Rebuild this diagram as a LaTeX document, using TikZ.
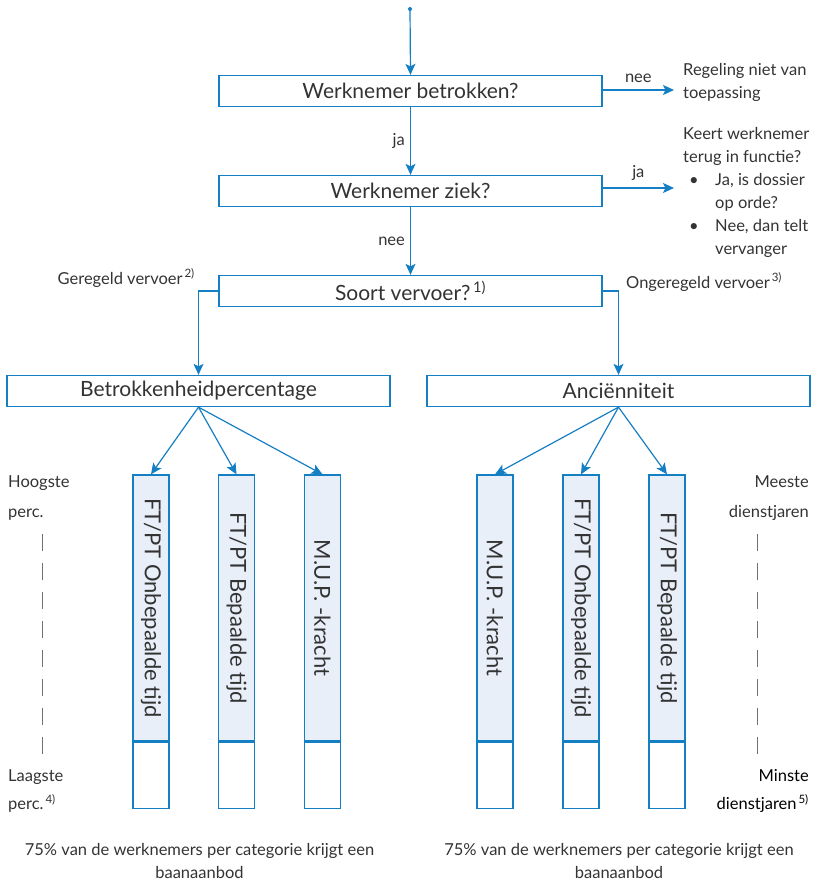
\documentclass[tikz,border=0pt]{standalone}
\usepackage{fontspec}
\setmainfont{Lato}
\usepackage{graphicx}
\usetikzlibrary{arrows.meta,positioning}
\definecolor{rblue}{RGB}{21,127,196}
\definecolor{rfill}{RGB}{232,239,248}
\definecolor{rtext}{RGB}{51,51,51}

\tikzset{
  small/.style={text=rtext, inner sep=0pt, font=\fontsize{16.5}{23}\selectfont},
  box/.style={draw=rblue, line width=1.3pt, minimum width=383pt, minimum height=31pt, inner sep=0pt, text=rtext, font=\fontsize{21}{24}\selectfont},
  bar/.style={draw=rblue, fill=rfill, line width=1.3pt, minimum width=36pt, minimum height=266pt, inner sep=0pt, text=rtext, font=\fontsize{22}{24}\selectfont},
  barlow/.style={draw=rblue, line width=1.3pt, minimum width=36pt, minimum height=66pt, inner sep=0pt},
  arr/.style={draw=rblue, line width=1.2pt, -{Stealth[length=11pt,width=10pt,inset=2.5pt]}},
  scaleline/.style={draw=rtext!70, line width=0.8pt, dash pattern=on 17pt off 12pt}
}

\begin{document}
\begin{tikzpicture}[x=1pt,y=-1pt]
\useasboundingbox (0,0) rectangle (812,883);

% beslisboom
\fill[rblue] (410,9) circle (2pt) coordinate (start);
\node[box] (betrokken) at (410.5,91) {Werknemer betrokken?};
\node[box] (ziek) at (410.5,191) {Werknemer ziek?};
\node[box] (soort) at (410.5,291) {Soort vervoer?\textsuperscript{\,1)}};
\node[box] (perc) at (198.5,391) {Betrokkenheidpercentage};
\node[box] (anc) at (618.5,391) {Anciënniteit};

\draw[arr] (start) -- (betrokken.north);
\draw[arr] (betrokken.south) -- node[small,left=5pt]{ja} (ziek.north);
\draw[arr] (ziek.south) -- node[small,left=5pt]{nee} (soort.north);
\draw[arr] (soort.west) -| (perc.north);
\draw[arr] (soort.east) -| (anc.north);

% uitkomsten rechts
\coordinate (nee1) at (674,90);
\coordinate (ja1) at (674,188);
\draw[arr] (betrokken.east |- nee1) -- node[small,above=7pt]{nee} (nee1);
\draw[arr] (ziek.east |- ja1) -- node[small,above=7pt]{ja} (ja1);
\node[small, anchor=north west, align=left] (regeling) at (683,63) {Regeling niet van\\toepassing};
\node[small, anchor=north west, align=left] (keert) at (683,127) {Keert werknemer\\terug in functie?\\
  \hspace*{6pt}\makebox[26pt][l]{\textbullet}Ja, is dossier\\\hspace*{32pt}op orde?\\
  \hspace*{6pt}\makebox[26pt][l]{\textbullet}Nee, dan telt\\\hspace*{32pt}vervanger};
\node[small, anchor=east] (geregeld) at (195,278) {Geregeld vervoer\textsuperscript{\,2)}};
\node[small, anchor=west] (ongeregeld) at (626,282) {Ongeregeld vervoer\textsuperscript{\,3)}};

% categorieen
\foreach \n/\x/\t in {a/151/{FT/PT Onbepaalde tijd}, b/236.5/{FT/PT Bepaalde tijd}, c/322.5/{M.U.P. -kracht},
                      d/495/{M.U.P. -kracht}, e/581/{FT/PT Onbepaalde tijd}, f/667/{FT/PT Bepaalde tijd}} {
  \node[bar] (\n) at (\x,608) {\rotatebox{-90}{\t}};
  \node[barlow, below=0pt of \n] (\n2) {};
  \draw[rblue, line width=2.4pt] (\n.south west) -- (\n.south east);
}
\foreach \n in {a,b,c} \draw[arr] (perc.south) -- (\n.north);
\foreach \n in {d,e,f} \draw[arr] (anc.south) -- (\n.north);

% schalen
\node[small, anchor=west, align=left, font=\fontsize{16.5}{30}\selectfont] (hoog) at (8,498) {Hoogste\\perc.};
\node[small, anchor=west, align=left, font=\fontsize{16.5}{28}\selectfont] (laag) at (8,791) {Laagste\\perc.\textsuperscript{\,4)}};
\draw[scaleline] (42,534) -- (42,756);
\node[small, anchor=east, align=right, font=\fontsize{16.5}{30}\selectfont] (meeste) at (809,498) {Meeste\\dienstjaren};
\node[small, anchor=east, align=right, text=black, font=\fontsize{16.5}{28}\selectfont] (minste) at (809,791) {Minste\\dienstjaren\textsuperscript{\,5)}};
\draw[scaleline] (757,534) -- (757,756);

% aanbod
\node[small, align=center] (aanbod1) at (199.5,861) {75\% van de werknemers per categorie krijgt een\\baanaanbod};
\node[small, align=center] (aanbod2) at (619,861) {75\% van de werknemers per categorie krijgt een\\baanaanbod};
\end{tikzpicture}
\end{document}
